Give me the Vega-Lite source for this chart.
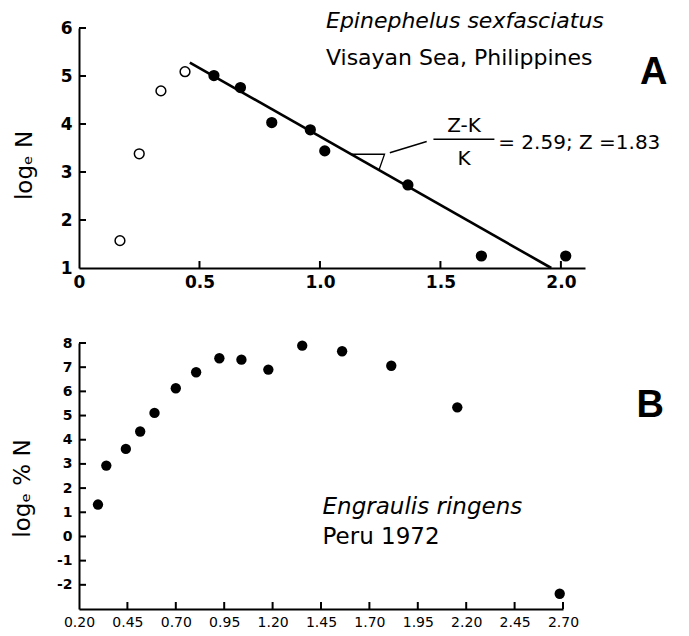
{
  "$schema": "https://vega.github.io/schema/vega-lite/v6.json",
  "description": "Catch curves: Epinephelus sexfasciatus (Visayan Sea) and Engraulis ringens (Peru 1972).",
  "background": "white",
  "padding": {"left": 11, "top": 10, "right": 5, "bottom": 5},
  "bounds": "flush",
  "spacing": 75,
  "datasets": {
    "epinephelus": [
      {"age": 0.17, "log_n": 1.57, "fit": "excluded"},
      {"age": 0.25, "log_n": 3.38, "fit": "excluded"},
      {"age": 0.34, "log_n": 4.69, "fit": "excluded"},
      {"age": 0.44, "log_n": 5.09, "fit": "excluded"},
      {"age": 0.56, "log_n": 5.01, "fit": "included"},
      {"age": 0.67, "log_n": 4.76, "fit": "included"},
      {"age": 0.80, "log_n": 4.03, "fit": "included"},
      {"age": 0.96, "log_n": 3.88, "fit": "included"},
      {"age": 1.02, "log_n": 3.44, "fit": "included"},
      {"age": 1.365, "log_n": 2.73, "fit": "included"},
      {"age": 1.67, "log_n": 1.25, "fit": "included"},
      {"age": 2.02, "log_n": 1.25, "fit": "included"}
    ],
    "fitA": [
      {"age": 0.46, "log_n": 5.28},
      {"age": 1.96, "log_n": 1.0}
    ],
    "slopeMark": [
      {"age": 1.133, "log_n": 3.37, "step": 1},
      {"age": 1.268, "log_n": 3.37, "step": 2},
      {"age": 1.245, "log_n": 3.04, "step": 3}
    ],
    "rulesA": [
      {"part": "leader", "age": 1.29, "age_end": 1.443, "log_n": 3.40, "log_n_end": 3.635},
      {"part": "fraction", "age": 1.471, "age_end": 1.724, "log_n": 3.68, "log_n_end": 3.68}
    ],
    "ticksAx": [
      {"age": 0.5, "log_n": 1}, {"age": 1.0, "log_n": 1}, {"age": 1.5, "log_n": 1}, {"age": 2.0, "log_n": 1}
    ],
    "ticksAy": [
      {"age": 0, "log_n": 2}, {"age": 0, "log_n": 3}, {"age": 0, "log_n": 4}, {"age": 0, "log_n": 5}, {"age": 0, "log_n": 6}
    ],
    "notesA": [
      {"role": "species", "label": "Epinephelus sexfasciatus", "age": 1.025, "log_n": 6.0},
      {"role": "locality", "label": "Visayan Sea, Philippines", "age": 1.025, "log_n": 5.23},
      {"role": "panel", "label": "A", "age": 2.328, "log_n": 4.83},
      {"role": "numerator", "label": "Z-K", "age": 1.598, "log_n": 3.84},
      {"role": "numerator", "label": "K", "age": 1.598, "log_n": 3.146},
      {"role": "equation", "label": "= 2.59; Z =1.83", "age": 1.74, "log_n": 3.47}
    ],
    "engraulis": [
      {"age": 0.298, "log_pct_n": 1.32},
      {"age": 0.341, "log_pct_n": 2.93},
      {"age": 0.442, "log_pct_n": 3.62},
      {"age": 0.516, "log_pct_n": 4.34},
      {"age": 0.59, "log_pct_n": 5.11},
      {"age": 0.70, "log_pct_n": 6.13},
      {"age": 0.805, "log_pct_n": 6.79},
      {"age": 0.925, "log_pct_n": 7.37},
      {"age": 1.039, "log_pct_n": 7.31},
      {"age": 1.178, "log_pct_n": 6.90},
      {"age": 1.353, "log_pct_n": 7.89},
      {"age": 1.559, "log_pct_n": 7.66},
      {"age": 1.813, "log_pct_n": 7.06},
      {"age": 2.154, "log_pct_n": 5.34},
      {"age": 2.683, "log_pct_n": -2.37}
    ],
    "ticksBx": [
      {"age": 0.45, "log_pct_n": -3}, {"age": 0.7, "log_pct_n": -3}, {"age": 0.95, "log_pct_n": -3},
      {"age": 1.2, "log_pct_n": -3}, {"age": 1.45, "log_pct_n": -3}, {"age": 1.7, "log_pct_n": -3},
      {"age": 1.95, "log_pct_n": -3}, {"age": 2.2, "log_pct_n": -3}, {"age": 2.45, "log_pct_n": -3},
      {"age": 2.7, "log_pct_n": -3}
    ],
    "ticksBy": [
      {"age": 0.2, "log_pct_n": -2}, {"age": 0.2, "log_pct_n": -1}, {"age": 0.2, "log_pct_n": 0},
      {"age": 0.2, "log_pct_n": 1}, {"age": 0.2, "log_pct_n": 2}, {"age": 0.2, "log_pct_n": 3},
      {"age": 0.2, "log_pct_n": 4}, {"age": 0.2, "log_pct_n": 5}, {"age": 0.2, "log_pct_n": 6},
      {"age": 0.2, "log_pct_n": 7}, {"age": 0.2, "log_pct_n": 8}
    ],
    "notesB": [
      {"role": "species", "label": "Engraulis ringens", "age": 1.458, "log_pct_n": 0.93},
      {"role": "locality", "label": "Peru 1972", "age": 1.458, "log_pct_n": -0.31},
      {"role": "panel", "label": "B", "age": 3.08, "log_pct_n": 4.93}
    ]
  },
  "vconcat": [
    {
      "width": 506,
      "height": 240,
      "encoding": {
        "x": {
          "field": "age", "type": "quantitative",
          "scale": {"domain": [0, 2.1], "nice": false, "zero": false},
          "axis": {
            "orient": "bottom", "title": null, "ticks": false, "tickSize": 0,
            "values": [0, 0.5, 1, 1.5, 2],
            "labelExpr": "datum.value == 0 ? '0' : format(datum.value, '.1f')",
            "labelFontSize": 17, "labelFontWeight": "bold", "labelPadding": 6
          }
        },
        "y": {
          "field": "log_n", "type": "quantitative",
          "scale": {"domain": [1, 6], "nice": false, "zero": false},
          "axis": {
            "orient": "left", "title": "logₑ N", "ticks": false, "tickSize": 0,
            "values": [1, 2, 3, 4, 5, 6],
            "format": "d",
            "labelFontSize": 17, "labelFontWeight": "bold", "labelPadding": 7,
            "titleFontSize": 23, "titleFontWeight": "normal",
            "titleBaseline": "middle", "titleAlign": "center",
            "titleX": -55, "titleY": 137
          }
        }
      },
      "layer": [
        {
          "data": {"name": "ticksAx"},
          "mark": {"type": "tick", "color": "black", "opacity": 1, "orient": "vertical", "size": 7, "thickness": 2, "yOffset": -3.5}
        },
        {
          "data": {"name": "ticksAy"},
          "mark": {"type": "tick", "color": "black", "opacity": 1, "orient": "horizontal", "size": 7, "thickness": 2, "xOffset": 3.5}
        },
        {
          "data": {"name": "fitA"},
          "mark": {"type": "line", "color": "black", "strokeWidth": 2.6},
          "encoding": {}
        },
        {
          "data": {"name": "slopeMark"},
          "mark": {"type": "line", "color": "black", "strokeWidth": 1.3},
          "encoding": {"order": {"field": "step"}}
        },
        {
          "data": {"name": "rulesA"},
          "mark": {"type": "rule", "color": "black", "strokeWidth": 1.5},
          "encoding": {
            "x2": {"field": "age_end"},
            "y2": {"field": "log_n_end"}
          }
        },
        {
          "data": {"name": "epinephelus"},
          "mark": {"type": "circle", "size": 95, "stroke": "black", "strokeWidth": 1.5, "opacity": 1},
          "encoding": {
            "fill": {
              "field": "fit", "type": "nominal",
              "scale": {"domain": ["excluded", "included"], "range": ["white", "black"]},
              "legend": null
            }
          }
        },
        {
          "data": {"name": "notesA"},
          "transform": [{"filter": "datum.role == 'species'"}],
          "mark": {"type": "text", "align": "left", "baseline": "alphabetic", "fontSize": 22, "fontStyle": "italic"},
          "encoding": {"text": {"field": "label"}}
        },
        {
          "data": {"name": "notesA"},
          "transform": [{"filter": "datum.role == 'locality'"}],
          "mark": {"type": "text", "align": "left", "baseline": "alphabetic", "fontSize": 22},
          "encoding": {"text": {"field": "label"}}
        },
        {
          "data": {"name": "notesA"},
          "transform": [{"filter": "datum.role == 'panel'"}],
          "mark": {"type": "text", "align": "left", "baseline": "alphabetic", "fontSize": 38, "fontWeight": "bold", "font": "Liberation Sans"},
          "encoding": {"text": {"field": "label"}}
        },
        {
          "data": {"name": "notesA"},
          "transform": [{"filter": "datum.role == 'numerator'"}],
          "mark": {"type": "text", "align": "center", "baseline": "alphabetic", "fontSize": 20},
          "encoding": {"text": {"field": "label"}}
        },
        {
          "data": {"name": "notesA"},
          "transform": [{"filter": "datum.role == 'equation'"}],
          "mark": {"type": "text", "align": "left", "baseline": "alphabetic", "fontSize": 20},
          "encoding": {"text": {"field": "label"}}
        }
      ]
    },
    {
      "width": 484,
      "height": 266,
      "encoding": {
        "x": {
          "field": "age", "type": "quantitative",
          "scale": {"domain": [0.2, 2.7], "nice": false, "zero": false},
          "axis": {
            "orient": "bottom", "title": null, "ticks": false, "tickSize": 0,
            "values": [0.2, 0.45, 0.7, 0.95, 1.2, 1.45, 1.7, 1.95, 2.2, 2.45, 2.7],
            "format": ".2f",
            "labelFontSize": 14, "labelPadding": 6
          }
        },
        "y": {
          "field": "log_pct_n", "type": "quantitative",
          "scale": {"domain": [-3, 8], "nice": false, "zero": false},
          "axis": {
            "orient": "left", "title": "logₑ % N", "ticks": false, "tickSize": 0,
            "values": [-2, -1, 0, 1, 2, 3, 4, 5, 6, 7, 8],
            "labelExpr": "'' + datum.value",
            "labelFontSize": 14, "labelFontWeight": "bold", "labelPadding": 7,
            "titleFontSize": 23, "titleFontWeight": "normal",
            "titleBaseline": "middle", "titleAlign": "center",
            "titleX": -57, "titleY": 145
          }
        }
      },
      "layer": [
        {
          "data": {"name": "ticksBx"},
          "mark": {"type": "tick", "color": "black", "opacity": 1, "orient": "vertical", "size": 7, "thickness": 2, "yOffset": -3.5}
        },
        {
          "data": {"name": "ticksBy"},
          "mark": {"type": "tick", "color": "black", "opacity": 1, "orient": "horizontal", "size": 7, "thickness": 2, "xOffset": 3.5}
        },
        {
          "data": {"name": "engraulis"},
          "mark": {"type": "circle", "size": 107, "color": "black", "opacity": 1}
        },
        {
          "data": {"name": "notesB"},
          "transform": [{"filter": "datum.role == 'species'"}],
          "mark": {"type": "text", "align": "left", "baseline": "alphabetic", "fontSize": 23, "fontStyle": "italic"},
          "encoding": {"text": {"field": "label"}}
        },
        {
          "data": {"name": "notesB"},
          "transform": [{"filter": "datum.role == 'locality'"}],
          "mark": {"type": "text", "align": "left", "baseline": "alphabetic", "fontSize": 23},
          "encoding": {"text": {"field": "label"}}
        },
        {
          "data": {"name": "notesB"},
          "transform": [{"filter": "datum.role == 'panel'"}],
          "mark": {"type": "text", "align": "left", "baseline": "alphabetic", "fontSize": 38, "fontWeight": "bold", "font": "Liberation Sans"},
          "encoding": {"text": {"field": "label"}}
        }
      ]
    }
  ],
  "config": {
    "font": "DejaVu Sans",
    "view": {"stroke": null},
    "text": {"color": "black"},
    "axis": {
      "grid": false,
      "labelFont": "DejaVu Sans",
      "titleFont": "DejaVu Sans",
      "labelColor": "black",
      "titleColor": "black",
      "labelFlush": false,
      "labelOverlap": false,
      "domainColor": "black",
      "domainWidth": 2
    }
  }
}
